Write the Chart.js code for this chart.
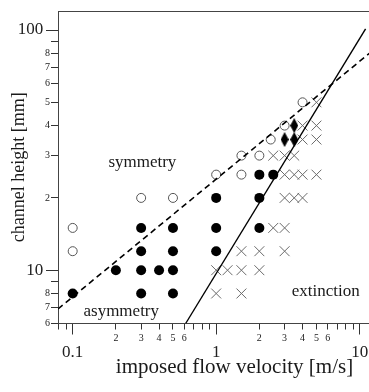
<!DOCTYPE html>
<html><head><meta charset="utf-8">
<script src="https://cdn.jsdelivr.net/npm/chart.js@4"></script>
<style>html,body{margin:0;padding:0;background:#fff;overflow:hidden;width:369px;height:392px}canvas{display:block}</style>
</head><body>
<canvas id="c" width="420" height="392"></canvas>
<script>
// ---- data ----
const symmetryX = [0.1, 0.1, 0.3, 0.5, 1, 1.5, 1.5, 2, 2.4, 3, 4];
const symmetryY = [15, 12, 20, 20, 25, 25, 30, 30, 35, 40, 50];
const asymmetryX = [0.1, 0.2, 0.3, 0.3, 0.3, 0.3, 0.4, 0.5, 0.5, 0.5, 0.5, 1, 1, 1, 2, 2, 2, 2.5];
const asymmetryY = [8, 10, 8, 10, 12, 15, 10, 8, 10, 12, 15, 12, 15, 20, 15, 20, 25, 25];
const extinctionX = [1, 1.5, 1, 1.2, 1.5, 2, 1.5, 2, 3, 2.5, 3, 3, 3.5, 4, 3, 3.5, 4, 5, 2.5, 3, 3.5, 4, 5, 4, 5, 5];
const extinctionY = [8, 8, 10, 10, 10, 10, 12, 12, 12, 15, 15, 20, 20, 20, 25, 25, 25, 25, 30, 30, 30, 35, 35, 40, 40, 50];
const transitionX = [3, 3.5, 3.5];
const transitionY = [35, 35, 40];
const symBoundaryX = [0.079, 12];
const symBoundaryY = [6.9, 81];
const extBoundaryX = [0.613, 11];
const extBoundaryY = [6, 101];

const xMinorTicks = [0.08, 0.09, 0.2, 0.3, 0.4, 0.5, 0.6, 0.7, 0.8, 0.9, 2, 3, 4, 5, 6, 7, 8, 9, 20];
const xMinorLabels = ['', '', '2', '3', '4', '5', '6', '', '', '', '2', '3', '4', '5', '6', '', '', '', '2'];
const xMajorTicks = [0.1, 1, 10];
const xMajorLabels = ['0.1', '1', '10'];
const yMinorTicks = [6, 7, 8, 9, 20, 30, 40, 50, 60, 70, 80, 90];
const yMinorLabels = ['6', '7', '8', '', '2', '3', '4', '5', '6', '7', '8', ''];
const yMajorTicks = [10, 100];
const yMajorLabels = ['10', '100'];
const regionNames = ['symmetry', 'asymmetry', 'extinction'];
const xTitle = 'imposed flow velocity [m/s]';
const yTitle = 'channel height [mm]';

// ---- helpers ----
const zip = (xs, ys) => xs.map((x, i) => ({x, y: ys[i]}));
const SERIF = '"Liberation Serif", "Times New Roman", serif';
Chart.defaults.font.family = SERIF;
Chart.defaults.color = '#222';

const diamond = document.createElement('canvas');
diamond.width = 8; diamond.height = 15;
(function () {
  const d = diamond.getContext('2d');
  d.fillStyle = '#000';
  d.beginPath(); d.moveTo(4, 0); d.lineTo(8, 7.5); d.lineTo(4, 15); d.lineTo(0, 7.5); d.closePath(); d.fill();
})();

const merged = (a, b) => a.concat(b).sort((p, q) => p - q);
const xAllTicks = merged(xMinorTicks, xMajorTicks);
const yAllTicks = merged(yMinorTicks, yMajorTicks);
const setTicks = (vals) => (s) => { s.ticks = vals.map(v => ({value: v})); };
const labelFor = (minV, minL, majV, majL, majSuffix) => (v) => {
  let k = majV.indexOf(v);
  if (k >= 0) return majL[k] + majSuffix;
  k = minV.indexOf(v);
  return k >= 0 ? minL[k] : '';
};
const fixSize = (prop, size) => (s) => { s[prop] = size; s.paddingTop = 0; s.paddingBottom = 0; s.paddingLeft = 0; s.paddingRight = 0; };

const XMIN = 0.079, XMAX = 22.8, YMIN = 6, YMAX = 120;

const regionLabelPlugin = {
  id: 'regionLabels',
  afterDatasetsDraw(chart, args, opts) {
    const {ctx, scales: {x, y}} = chart;
    ctx.save();
    ctx.font = '17px ' + SERIF;
    ctx.fillStyle = '#1a1a1a';
    ctx.textAlign = 'center';
    ctx.textBaseline = 'middle';
    opts.items.forEach(it => ctx.fillText(it.text, x.getPixelForValue(it.x), y.getPixelForValue(it.y)));
    ctx.restore();
  }
};

new Chart(document.getElementById('c'), {
  type: 'scatter',
  data: {
    datasets: [
      {data: zip(extBoundaryX, extBoundaryY), showLine: true, pointRadius: 0, borderColor: '#000', borderWidth: 1.4, fill: false},
      {data: zip(symBoundaryX, symBoundaryY), showLine: true, pointRadius: 0, borderColor: '#000', borderWidth: 1.6, borderDash: [6, 4], fill: false},
      {data: zip(transitionX, transitionY), pointStyle: diamond, pointRadius: 5},
      {data: zip(asymmetryX, asymmetryY), pointStyle: 'circle', pointRadius: 5, backgroundColor: '#000', borderColor: '#000', borderWidth: 0},
      {data: zip(symmetryX, symmetryY), pointStyle: 'circle', pointRadius: 4.5, backgroundColor: 'rgba(0,0,0,0)', borderColor: '#555', borderWidth: 1},
      {data: zip(extinctionX, extinctionY), pointStyle: 'crossRot', pointRadius: 7, borderColor: '#6a6a6a', borderWidth: 1}
    ]
  },
  options: {
    responsive: false,
    animation: false,
    events: [],
    layout: {padding: {top: 11, left: 0, right: 9, bottom: 0}},
    plugins: {
      legend: {display: false},
      tooltip: {enabled: false},
      regionLabels: {items: [
        {text: regionNames[0], x: 0.306, y: 28.2},
        {text: regionNames[1], x: 0.218, y: 6.72},
        {text: regionNames[2], x: 5.8, y: 8.19}
      ]}
    },
    scales: {
      x: {
        type: 'logarithmic', position: 'bottom', min: XMIN, max: XMAX, bounds: 'data', weight: 0,
        afterBuildTicks: setTicks(xAllTicks),
        afterFit: fixSize('height', 68.5),
        grid: {drawOnChartArea: false, tickLength: 6, tickColor: '#333', tickWidth: 1},
        border: {display: true, color: '#444', width: 1},
        ticks: {
          autoSkip: false, maxRotation: 0, minRotation: 0, padding: 3, color: '#222',
          font: (c) => (c.tick && xMajorTicks.includes(c.tick.value)) ? {size: 17, lineHeight: 2.41} : {size: 10, lineHeight: 1.2},
          callback: labelFor(xMinorTicks, xMinorLabels, xMajorTicks, xMajorLabels, '')
        },
        title: {display: true, text: xTitle, font: {size: 21}, color: '#1a1a1a', padding: {top: 0, bottom: 12}}
      },
      xMaj: {
        type: 'logarithmic', position: 'bottom', min: XMIN, max: XMAX, bounds: 'data', weight: -1,
        afterBuildTicks: setTicks(xMajorTicks),
        afterFit: fixSize('height', 0),
        grid: {drawOnChartArea: false, tickLength: 11, tickColor: '#333', tickWidth: 1},
        border: {display: false},
        ticks: {display: false}
      },
      xTop: {
        type: 'logarithmic', position: 'top', min: XMIN, max: XMAX, bounds: 'data',
        afterFit: fixSize('height', 0),
        grid: {drawOnChartArea: false, drawTicks: false},
        border: {display: true, color: '#444', width: 1},
        ticks: {display: false}
      },
      y: {
        type: 'logarithmic', position: 'left', min: YMIN, max: YMAX, bounds: 'data', weight: 0,
        afterBuildTicks: setTicks(yAllTicks),
        afterFit: fixSize('width', 58),
        grid: {drawOnChartArea: false, tickLength: 7, tickColor: '#333', tickWidth: 1},
        border: {display: true, color: '#444', width: 1},
        ticks: {
          autoSkip: false, padding: 1, color: '#222',
          font: (c) => (c.tick && yMajorTicks.includes(c.tick.value)) ? {size: 17} : {size: 10},
          callback: labelFor(yMinorTicks, yMinorLabels, yMajorTicks, yMajorLabels, '\u2009\u2009')
        },
        title: {display: true, text: yTitle, font: {size: 18}, color: '#1a1a1a', padding: {top: 8, bottom: 0}}
      },
      yMaj: {
        type: 'logarithmic', position: 'left', min: YMIN, max: YMAX, bounds: 'data', weight: -1,
        afterBuildTicks: setTicks(yMajorTicks),
        afterFit: fixSize('width', 0),
        grid: {drawOnChartArea: false, tickLength: 12, tickColor: '#333', tickWidth: 1},
        border: {display: false},
        ticks: {display: false}
      }
    }
  },
  plugins: [regionLabelPlugin]
});
</script>
</body></html>
